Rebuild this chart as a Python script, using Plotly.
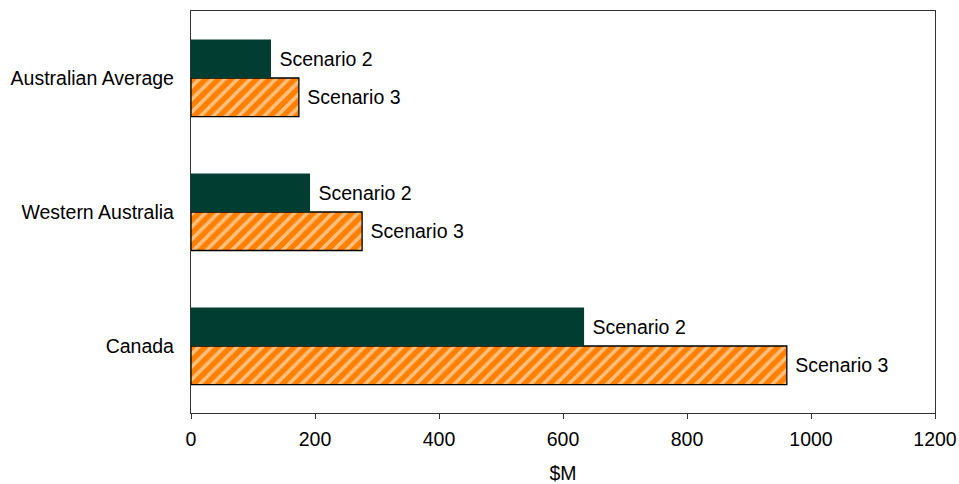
import plotly.graph_objects as go

categories = ["Canada", "Western Australia", "Australian Average"]
scenario2 = [634, 192, 129]
scenario3 = [961, 276, 174]
label2 = "Scenario 2"
label3 = "Scenario 3"
x_ticks = [0, 200, 400, 600, 800, 1000, 1200]

FONT = "Liberation Sans, Arial, sans-serif"
fsize = 19.5

fig = go.Figure()
fig.add_trace(go.Bar(
    y=categories, x=scenario3, orientation="h", name=label3,
    text=[" " + label3] * len(categories), textposition="outside",
    textfont=dict(family=FONT, size=fsize, color="black"),
    marker=dict(color="#FF8000", line=dict(color="black", width=1.3),
                pattern=dict(shape="/", fgcolor="white", bgcolor="#FF8000",
                             size=9, solidity=0.4, fillmode="overlay")),
    cliponaxis=False, showlegend=False,
))
fig.add_trace(go.Bar(
    y=categories, x=scenario2, orientation="h", name=label2,
    text=[" " + label2] * len(categories), textposition="outside",
    textfont=dict(family=FONT, size=fsize, color="black"),
    marker=dict(color="#023D31", line=dict(width=0)),
    cliponaxis=False, showlegend=False,
))

fig.update_layout(
    width=959, height=484,
    margin=dict(l=191, r=24, t=11, b=71, autoexpand=False),
    paper_bgcolor="white", plot_bgcolor="white",
    barmode="group", bargap=0.425, bargroupgap=0,
    font=dict(family=FONT, size=fsize, color="black"),
)
fig.update_xaxes(
    range=[0, 1200], tickvals=x_ticks, ticktext=[str(v) for v in x_ticks],
    showgrid=False, zeroline=False, automargin=False,
    showline=True, linecolor="#333333", linewidth=1.3, mirror=True,
    ticks="outside", ticklen=5, tickcolor="#333333", ticklabelstandoff=3,
    tickfont=dict(family=FONT, size=fsize),
    title=dict(text="$M", font=dict(family=FONT, size=fsize), standoff=18),
)
fig.update_yaxes(
    showgrid=False, zeroline=False, automargin=False,
    showline=True, linecolor="#333333", linewidth=1.3, mirror=True,
    ticks="", ticklabelstandoff=12,
    tickfont=dict(family=FONT, size=fsize),
)

fig.write_html("out.html")
